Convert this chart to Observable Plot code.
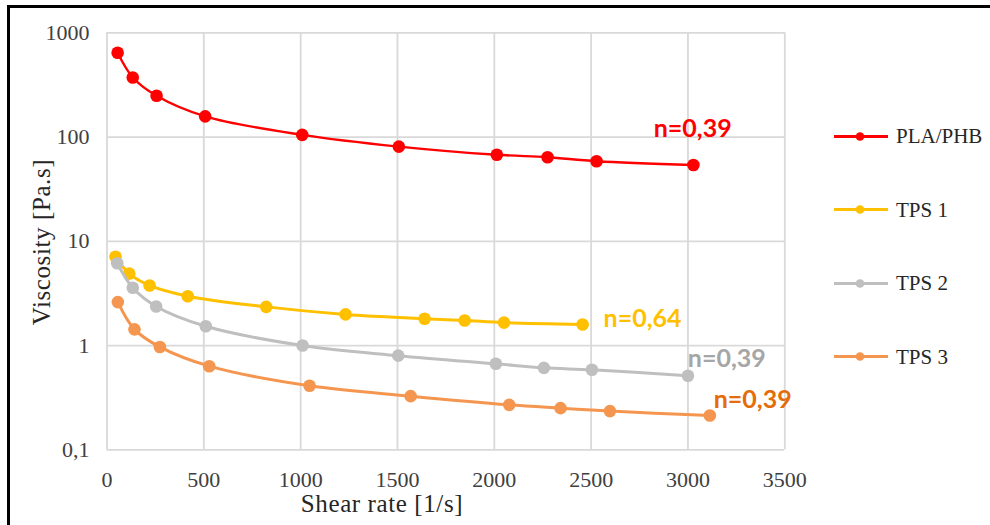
<!DOCTYPE html>
<html>
<head>
<meta charset="utf-8">
<script src="https://cdn.jsdelivr.net/npm/d3@7"></script>
<script src="https://cdn.jsdelivr.net/npm/@observablehq/plot@0.6"></script>
<style>
  html, body { margin: 0; padding: 0; background: #fff; }
  #wrap { position: relative; width: 990px; height: 525px; overflow: hidden; background: #fff; }
  #frame { position: absolute; left: 7px; top: 5px; width: 990px; height: 530px; border-top: 3px solid #000; border-left: 3px solid #000; box-sizing: border-box; }
  #chart { position: absolute; left: 0; top: 0; }
  .title { position: absolute; font-family: "Liberation Serif", "Times New Roman", serif; font-size: 25px; line-height: 1; color: #262626; white-space: nowrap; letter-spacing: 0.6px; }
  #xtitle { left: 382px; top: 491px; transform: translate(-50%, 0); }
  #ytitle { left: 41px; top: 242px; transform: translate(-50%, -50%) rotate(-90deg); }
  #legend { position: absolute; left: 834px; top: 0; }
  .item { position: absolute; left: 0; display: flex; align-items: center; white-space: nowrap; font-family: "Liberation Serif", "Times New Roman", serif; font-size: 21px; color: #262626; transform: translateY(-50%); }
  .item svg { margin-right: 8px; }
</style>
</head>
<body>
<div id="wrap">
  <div id="chart"></div>
  <div id="frame"></div>
  <div class="title" id="xtitle">Shear rate [1/s]</div>
  <div class="title" id="ytitle">Viscosity [Pa.s]</div>
  <div id="legend"></div>
</div>
<script>
// ---- data ----
const seriesNames = ["PLA/PHB", "TPS 1", "TPS 2", "TPS 3"];
const seriesColors = ["#ff0000", "#ffc000", "#bfbfbf", "#f4964f"];
const labelColors = ["#ff0000", "#ffc000", "#a6a6a6", "#e46c0a"];

const shearPLA = [55, 133, 256, 507, 1008, 1507, 2013, 2275, 2528, 3028];
const viscPLA  = [643, 373, 249, 158, 105, 81, 67.6, 64, 58.6, 54];

const shearTPS1 = [44, 115, 220, 417, 822, 1232, 1640, 1847, 2050, 2456];
const viscTPS1  = [7.1, 4.9, 3.77, 2.97, 2.35, 1.99, 1.81, 1.74, 1.66, 1.59];

const shearTPS2 = [53, 133, 254, 510, 1010, 1504, 2008, 2256, 2504, 3000];
const viscTPS2  = [6.15, 3.58, 2.37, 1.53, 1.0, 0.80, 0.668, 0.611, 0.585, 0.513];

const shearTPS3 = [56, 142, 273, 528, 1046, 1568, 2077, 2342, 2597, 3113];
const viscTPS3  = [2.61, 1.43, 0.97, 0.634, 0.411, 0.327, 0.270, 0.251, 0.235, 0.213];

const xTicks = [0, 500, 1000, 1500, 2000, 2500, 3000, 3500];
const yTicks = [0.1, 1, 10, 100, 1000];
const yTickLabels = ["0,1", "1", "10", "100", "1000"];

const annText = ["n=0,39", "n=0,64", "n=0,39", "n=0,39"];
const annX = [2823, 2564, 2999, 3133];
const annY = [119, 1.78, 0.751, 0.303];

// ---- build tables ----
const shears = [shearPLA, shearTPS1, shearTPS2, shearTPS3];
const viscs = [viscPLA, viscTPS1, viscTPS2, viscTPS3];
const tables = seriesNames.map((name, s) =>
  shears[s].map((x, i) => ({series: name, x, y: viscs[s][i]})));
const annotations = seriesNames.map((name, s) =>
  ({series: name, x: annX[s], y: annY[s], text: annText[s], color: labelColors[s]}));
const yLabelMap = new Map(yTicks.map((t, i) => [t, yTickLabels[i]]));

const seriesMarks = [];
tables.forEach((data, s) => {
  seriesMarks.push(Plot.line(data, {x: "x", y: "y", stroke: seriesColors[s], strokeWidth: s === 0 ? 2.4 : 3, curve: "catmull-rom"}));
  seriesMarks.push(Plot.dot(data, {x: "x", y: "y", fill: seriesColors[s], r: 6.3}));
});

const chart = Plot.plot({
  width: 990,
  height: 525,
  marginLeft: 106.5,
  marginRight: 205.7,
  marginTop: 32.3,
  marginBottom: 75.7,
  style: {fontFamily: "'Liberation Serif', 'Times New Roman', serif", fontSize: "22px", color: "#404040", background: "transparent", overflow: "visible"},
  x: {domain: [0, 3500]},
  y: {type: "log", domain: [0.1, 1000]},
  marks: [
    Plot.gridX(xTicks, {stroke: "#d9d9d9", strokeOpacity: 1, strokeWidth: 1.8}),
    Plot.gridY(yTicks, {stroke: "#d9d9d9", strokeOpacity: 1, strokeWidth: 1.8}),
    Plot.axisX(xTicks, {tickSize: 0, tickPadding: 22, label: null, fontSize: 22, tickFormat: d => String(d)}),
    Plot.axisY(yTicks, {tickSize: 0, tickPadding: 17.5, label: null, fontSize: 22, tickFormat: d => yLabelMap.get(d)}),
    ...seriesMarks,
    Plot.text(annotations, {x: "x", y: "y", text: "text", fill: "color", textAnchor: "start", lineAnchor: "middle", fontFamily: "Lato, 'Open Sans', sans-serif", fontWeight: "bold", fontSize: 25})
  ]
});
document.getElementById("chart").appendChild(chart);

// ---- legend ----
const legend = document.getElementById("legend");
const legendTop = 136, legendStep = 73.5;
seriesNames.forEach((name, s) => {
  const item = document.createElement("div");
  item.className = "item";
  item.style.top = (legendTop + s * legendStep) + "px";
  item.innerHTML = `<svg width="54" height="12"><line x1="0" y1="6" x2="54" y2="6" stroke="${seriesColors[s]}" stroke-width="3"/><circle cx="26" cy="6" r="4.3" fill="${seriesColors[s]}"/></svg><span>${name}</span>`;
  legend.appendChild(item);
});
</script>
</body>
</html>
